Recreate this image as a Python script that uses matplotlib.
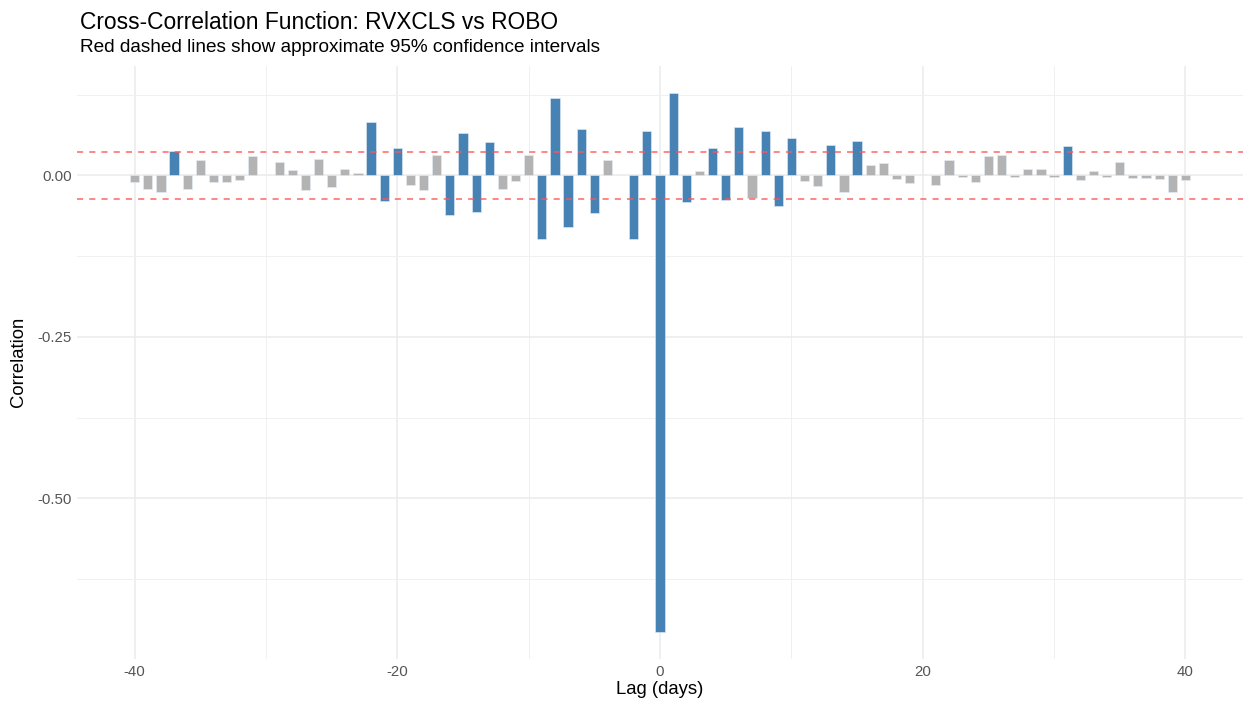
import matplotlib
matplotlib.use("Agg")
import matplotlib.pyplot as plt
import numpy as np

plt.rcParams['font.family'] = ['Liberation Sans', 'DejaVu Sans']
plt.rcParams['axes.unicode_minus'] = False

# cross-correlation of RVXCLS vs ROBO, lags -40..40
lags = list(range(-40, 41))
ccf = [
    -0.011, -0.021, -0.026, 0.038, -0.021, 0.023, -0.011, -0.011, -0.007, 0.030,   # -40..-31
    0.001, 0.020, 0.008, -0.023, 0.026, -0.018, 0.010, 0.003, 0.082, -0.039,       # -30..-21
    0.042, -0.015, -0.023, 0.031, -0.061, 0.065, -0.057, 0.052, -0.021, -0.009,    # -20..-11
    0.032, -0.099, 0.120, -0.080, 0.071, -0.059, 0.023, 0.001, -0.099, 0.068,      # -10..-1
    -0.707,                                                                        # 0
    0.128, -0.042, 0.006, 0.043, -0.038, 0.075, -0.035, 0.068, -0.048, 0.057,      # 1..10
    -0.009, -0.017, 0.047, -0.026, 0.053, 0.016, 0.019, -0.006, -0.012, 0.0,       # 11..20
    -0.015, 0.024, -0.003, -0.011, 0.030, 0.032, -0.003, 0.009, 0.009, -0.003,     # 21..30
    0.045, -0.008, 0.007, -0.002, 0.021, -0.004, -0.004, -0.006, -0.026, -0.007,   # 31..40
]
conf_limit = 0.0365

lags = np.array(lags)
ccf = np.array(ccf)
significant = np.abs(ccf) > conf_limit
colors = np.where(significant, '#4682B4', '#B3B3B3')

fig = plt.figure(figsize=(12.43, 7.06), dpi=100)
ax = fig.add_axes([0.062, 0.0666, 0.938, 0.8404])

bar_w = 0.7
ax.bar(lags, ccf, width=bar_w, color=colors, edgecolor='#E6EEF5', linewidth=0.4, zorder=3)
ax.axhline(conf_limit, color='#FF5555', ls=(0, (4, 4)), lw=1.1, alpha=0.9, zorder=4)
ax.axhline(-conf_limit, color='#FF5555', ls=(0, (4, 4)), lw=1.1, alpha=0.9, zorder=4)

# ggplot-style 5% expansion
lo, hi = ccf.min(), ccf.max()
pad = 0.05 * (hi - lo)
ax.set_ylim(lo - pad, hi + pad)
xl, xh = lags.min() - bar_w / 2, lags.max() + bar_w / 2
xpad = 0.05 * (xh - xl)
ax.set_xlim(xl - xpad, xh + xpad)

ax.set_xticks([-40, -20, 0, 20, 40])
ax.set_xticks([-30, -10, 10, 30], minor=True)
ax.set_yticks([0.0, -0.25, -0.5])
ax.set_yticks([0.125, -0.125, -0.375, -0.625], minor=True)
ax.set_yticklabels(['0.00', '-0.25', '-0.50'])
ax.grid(which='major', color='#EBEBEB', lw=1.1, zorder=0)
ax.grid(which='minor', color='#F0F0F0', lw=0.7, zorder=0)
ax.tick_params(which='both', length=0, labelsize=10.8, labelcolor='#555555', pad=4)
for s in ax.spines.values():
    s.set_visible(False)

ax.set_xlabel('Lag (days)', fontsize=13.3, color='black', labelpad=2)
ax.set_ylabel('Correlation', fontsize=13.3, color='black', labelpad=7)

fig.text(0.0645, 0.9596, 'Cross-Correlation Function: RVXCLS vs ROBO', fontsize=16.4, ha='left', va='baseline')
fig.text(0.0645, 0.9263, 'Red dashed lines show approximate 95% confidence intervals', fontsize=13.7, ha='left', va='baseline')

fig.savefig('out.png', dpi=100, facecolor='white')
